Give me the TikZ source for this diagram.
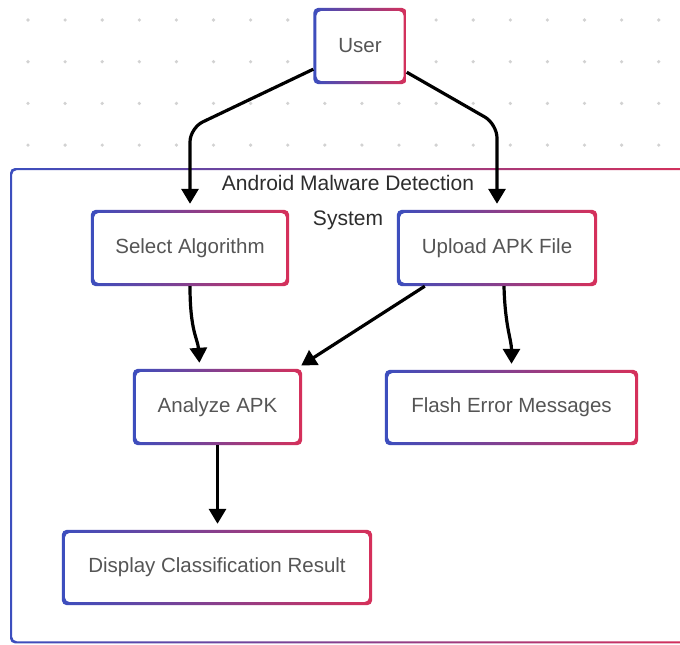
\documentclass[tikz,border=0pt]{standalone}
\usepackage{fontspec}
\setmainfont{Liberation Sans}
\usetikzlibrary{arrows.meta,calc}
\definecolor{cblue}{RGB}{60,78,190}
\definecolor{cmid}{RGB}{150,60,140}
\definecolor{cred}{RGB}{214,48,90}
\definecolor{txtgray}{RGB}{85,85,85}
\definecolor{titlegray}{RGB}{45,45,45}
\definecolor{dotc}{RGB}{210,210,210}
\newcommand{\gradborder}[2]{%
  \shade[left color=cblue, middle color=cmid, right color=cred, even odd rule, rounded corners=5pt]
    (#1.south west) rectangle (#1.north east)
    ($(#1.south west)+(#2,-#2)$) rectangle ($(#1.north east)+(-#2,#2)$);}
\tikzset{
  box/.style={draw=none, fill=white, rounded corners=5pt, text=txtgray,
    font=\fontsize{20.5}{24}\selectfont, inner sep=0pt},
  arr/.style={draw=black, line width=3.2pt, -{Triangle[width=17pt,length=15pt]}, shorten >=6pt},
}
\begin{document}
\begin{tikzpicture}[x=1pt,y=-1pt]
\useasboundingbox (0,0) rectangle (680,645);
\clip (0,0) rectangle (680,645);
\fill[white] (0,0) rectangle (680,645);
% dot grid
\foreach \i in {0,...,17}
  \foreach \j in {0,...,3}
    \fill[dotc] (28+37.1*\i, 20+41.7*\j) circle (1.8);
% container
\node[fill=white, minimum width=690pt, minimum height=475pt, inner sep=0pt, anchor=north west] (sys) at (10,168) {};
\gradborder{sys}{2}
\node[text=titlegray, font=\fontsize{21}{35}\selectfont, align=center] (title) at (348,203) {Android Malware Detection\\System};
% nodes
\node[box, minimum width=93pt, minimum height=76pt] (user) at (360,46) {User};
\node[box, minimum width=198pt, minimum height=76pt] (sel) at (190,248) {Select Algorithm};
\node[box, minimum width=200pt, minimum height=76pt] (upl) at (497,248) {Upload APK File};
\node[box, minimum width=169pt, minimum height=76pt] (ana) at (217.5,407) {Analyze APK};
\node[box, minimum width=253pt, minimum height=75pt] (fla) at (511.5,407.5) {Flash Error Messages};
\node[box, minimum width=310pt, minimum height=75pt] (dis) at (217,567.5) {Display Classification Result};
\foreach \n in {user,sel,upl,ana,fla,dis} { \gradborder{\n}{3} }
% connectors
\coordinate (k1) at (0,128);
\coordinate (k2) at (0,124);
\draw[arr, rounded corners=14pt] ($(user.south west)+(0,-15)$) -- (sel.north |- k1) -- (sel.north);
\draw[arr, rounded corners=14pt] ($(user.south east)+(0,-12)$) -- (upl.north |- k2) -- (upl.north);
\draw[arr] (sel.south) .. controls ($(sel.south)+(0,45)$) and ($(ana.north west)+(65,-30)$) .. ($(ana.north west)+(67,0)$);
\draw[arr] ($(upl.south west)+(28,0)$) -- ($(ana.north east)+(-6,0)$);
\draw[arr] ($(upl.south)+(7,0)$) .. controls ($(upl.south)+(8,40)$) and ($(fla.north)+(0,-30)$) .. (fla.north);
\draw[arr] (ana.south) -- (ana.south |- dis.north);
\end{tikzpicture}
\end{document}
